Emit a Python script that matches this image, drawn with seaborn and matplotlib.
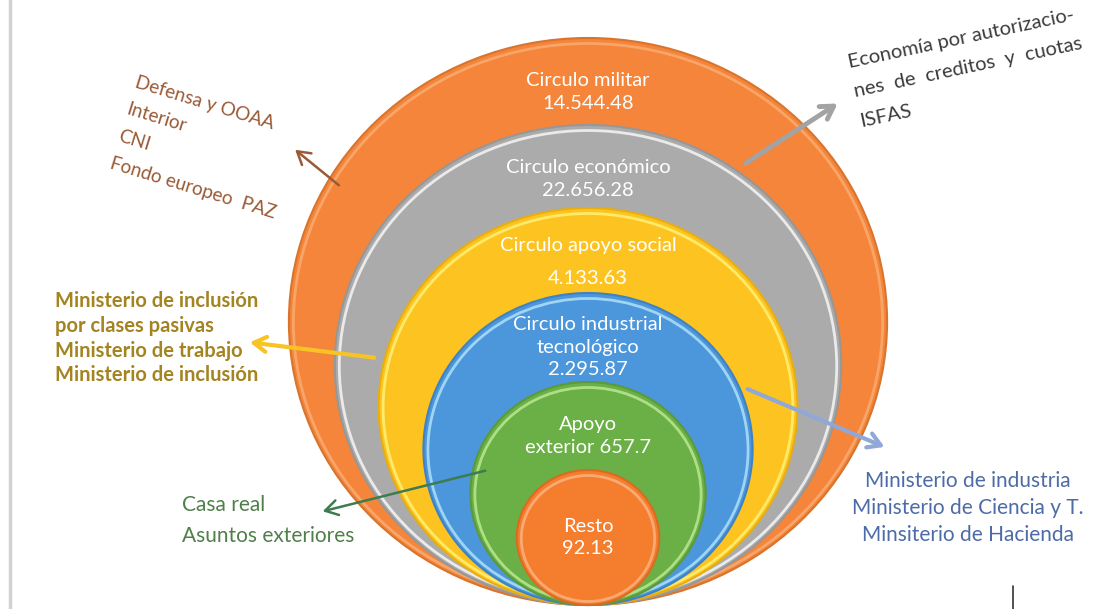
# Círculos presupuestarios - diagrama de círculos anidados

import matplotlib
matplotlib.use('Agg')
import matplotlib.pyplot as plt
from matplotlib.patches import Ellipse
import seaborn as sns

# Datos
nombres = ['Circulo militar', 'Circulo económico', 'Circulo apoyo social',
           'Circulo industrial\ntecnológico', 'Apoyo\nexterior', 'Resto']
valores = [14544.48, 22656.28, 4133.63, 2295.87, 657.7, 92.13]
separadores = ['\n', '\n', '\n', '\n', ' ', '\n']

militar_notas = ['Defensa y OOAA', 'Interior', 'CNI', 'Fondo europeo  PAZ']
economico_notas = ['Economía por autorizacio-', 'nes  de  creditos  y  cuotas', 'ISFAS']
social_notas = ['Ministerio de inclusión', 'por clases pasivas',
                'Ministerio de trabajo', 'Ministerio de inclusión']
industrial_notas = ['Ministerio de industria', 'Ministerio de Ciencia y T.',
                    'Minsiterio de Hacienda']
exterior_notas = ['Casa real', 'Asuntos exteriores']

# Estilo
colores = ['#F4853A', '#ABABAB', '#FDC421', '#4C96DB', '#6BAF47', '#F47D2E']
brillos = ['#F9A96F', '#F2F2F2', '#FFEF72', '#A8DDF7', '#B5E68C', '#F9B07A']
sombras = ['#D9742C', '#979797', '#E8AE10', '#3F82C4', '#5B9A3B', '#DB6A22']

sns.set_theme(style='white')
plt.rcParams['font.family'] = ['Lato', 'DejaVu Sans']

fig = plt.figure(figsize=(11.03, 6.09), dpi=100)
ax = fig.add_axes([0, 0, 1, 1])
ax.set_xlim(0, 1103)
ax.set_ylim(609, 0)
ax.axis('off')

# circulos anidados, todos tocan el mismo punto de abajo
cx, base = 588, 605
alturas = [567, 480, 397, 312, 223, 135]
aspecto = 1.055
for i, h in enumerate(alturas):
    w = h * aspecto
    ax.add_patch(Ellipse((cx, base - h / 2), w, h, facecolor=colores[i],
                         edgecolor=sombras[i], lw=1.5, zorder=2 * i + 1))
    ax.add_patch(Ellipse((cx, base - h / 2 + 1), w - 9, h - 9, facecolor='none',
                         edgecolor=brillos[i], lw=2, alpha=0.9, zorder=2 * i + 2))
    etiqueta = nombres[i] + separadores[i] + f'{valores[i]:,}'.replace(',', '.')
    y = base - h / 2 if i == len(alturas) - 1 else base - h + 54
    ax.text(cx, y, etiqueta, ha='center', va='center', color='white',
            fontsize=14.5, linespacing=2.1 if i == 2 else 1.38, zorder=20)

# flechas
flecha = dict(arrowstyle='->,head_length=0.75,head_width=0.45')
ax.annotate('', xy=(293, 148), xytext=(341, 187), zorder=30,
            arrowprops=dict(flecha, color='#9A5A36', lw=1.8))
ax.annotate('', xy=(840, 102), xytext=(743, 165), zorder=30,
            arrowprops=dict(flecha, color='#A3A3A3', lw=3.5))
ax.annotate('', xy=(247, 342), xytext=(377, 358), zorder=30,
            arrowprops=dict(flecha, color='#F7C325', lw=3))
ax.annotate('', xy=(887, 448), xytext=(745, 388), zorder=30,
            arrowprops=dict(flecha, color='#8FA8D8', lw=3))
ax.annotate('', xy=(320, 512), xytext=(488, 470), zorder=30,
            arrowprops=dict(flecha, color='#3E7B4F', lw=1.8))

# notas exteriores
ax.text(138, 74, '\n'.join(militar_notas), rotation=-17, rotation_mode='anchor',
        ha='left', va='top', color='#9A5A36', fontsize=13.6, linespacing=1.8)
ax.text(846, 54, '\n'.join(economico_notas), rotation=12, rotation_mode='anchor',
        ha='left', va='top', color='#3B3B3B', fontsize=14.5, linespacing=1.95)
ax.text(55, 291, '\n'.join(social_notas), ha='left', va='top',
        color='#A38420', fontsize=14.5, fontweight='bold', linespacing=1.3)
ax.text(968, 471, '\n'.join(industrial_notas), ha='center', va='top',
        color='#4D6BA6', fontsize=15, linespacing=1.45)
ax.text(182, 495, '\n'.join(exterior_notas), ha='left', va='top',
        color='#4F7F4A', fontsize=15, linespacing=1.7)

# marco y marca sueltos de la captura
ax.plot([10, 10], [0, 609], color='#D2D2D2', lw=2.5)
ax.plot([1013, 1013], [586, 609], color='#333333', lw=1.2)

fig.savefig('out.png', dpi=100)
